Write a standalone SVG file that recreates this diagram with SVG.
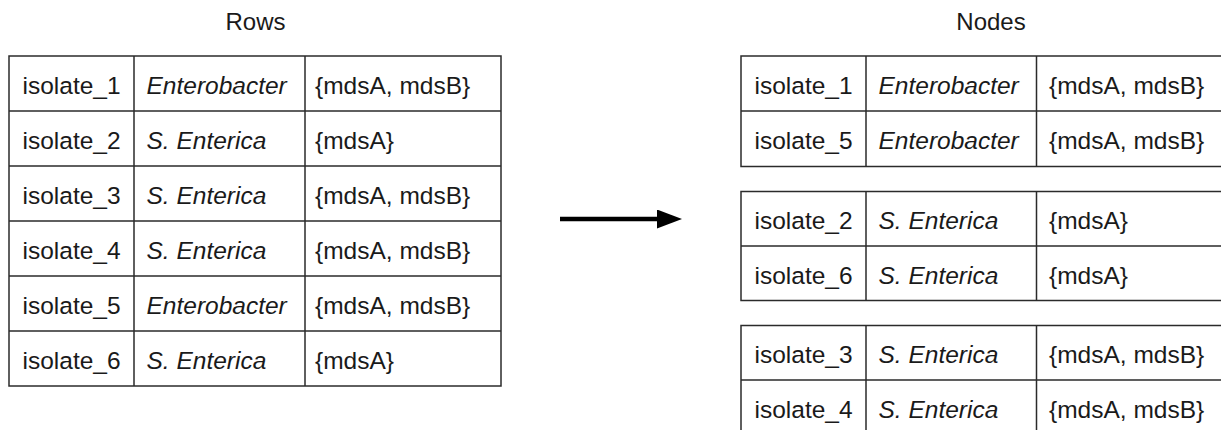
<svg xmlns="http://www.w3.org/2000/svg" width="1221" height="430" viewBox="0 0 1221 430">
  <style>
    text { font-family: "Liberation Sans", Arial, sans-serif; font-size: 24.5px; fill: #1a1a1a; }
    .title { text-anchor: middle; font-size: 24px; }
    .sp { font-style: italic; }
    .cell { fill: #ffffff; stroke: #2b2b2b; stroke-width: 1.5; }
    .grid { stroke: #2b2b2b; stroke-width: 1.5; fill: none; }
  </style>
  <defs>
    <marker id="head" viewBox="0 0 25 19" refX="0" refY="9.5" markerUnits="userSpaceOnUse" markerWidth="25" markerHeight="19" orient="auto">
      <path d="M0,0 L25,9.5 L0,19 Z" fill="#000"/>
    </marker>
  </defs>

  <rect width="1221" height="430" fill="#ffffff"/>

  <text class="title" x="255.5" y="29.5">Rows</text>
  <text class="title" x="991" y="29.5">Nodes</text>

  <!-- source table: one row per isolate -->
  <g id="rows">
    <rect class="cell" x="9" y="56" width="492" height="330"/>
    <path class="grid" d="M134,56 V386 M305,56 V386 M9,111 H501 M9,166 H501 M9,221 H501 M9,276 H501 M9,331 H501"/>
    <text x="22.5" y="93.5">isolate_1</text><text class="sp" x="146.5" y="93.5">Enterobacter</text><text x="315" y="93.5">{mdsA, mdsB}</text>
    <text x="22.5" y="148.5">isolate_2</text><text class="sp" x="146.5" y="148.5">S. Enterica</text><text x="315" y="148.5">{mdsA}</text>
    <text x="22.5" y="203.5">isolate_3</text><text class="sp" x="146.5" y="203.5">S. Enterica</text><text x="315" y="203.5">{mdsA, mdsB}</text>
    <text x="22.5" y="258.5">isolate_4</text><text class="sp" x="146.5" y="258.5">S. Enterica</text><text x="315" y="258.5">{mdsA, mdsB}</text>
    <text x="22.5" y="313.5">isolate_5</text><text class="sp" x="146.5" y="313.5">Enterobacter</text><text x="315" y="313.5">{mdsA, mdsB}</text>
    <text x="22.5" y="368.5">isolate_6</text><text class="sp" x="146.5" y="368.5">S. Enterica</text><text x="315" y="368.5">{mdsA}</text>
  </g>

  <!-- grouped tables: one per node -->
  <g id="node-enterobacter">
    <rect class="cell" x="741" y="56" width="492" height="110.5"/>
    <path class="grid" d="M866,56 V166.5 M1036.5,56 V166.5 M741,111 H1233"/>
    <text x="754.5" y="93.5">isolate_1</text><text class="sp" x="878.5" y="93.5">Enterobacter</text><text x="1049" y="93.5">{mdsA, mdsB}</text>
    <text x="754.5" y="148.5">isolate_5</text><text class="sp" x="878.5" y="148.5">Enterobacter</text><text x="1049" y="148.5">{mdsA, mdsB}</text>
  </g>

  <g id="node-enterica-a">
    <rect class="cell" x="741" y="191.5" width="492" height="109"/>
    <path class="grid" d="M866,191.5 V300.5 M1036.5,191.5 V300.5 M741,246 H1233"/>
    <text x="754.5" y="229">isolate_2</text><text class="sp" x="878.5" y="229">S. Enterica</text><text x="1049" y="229">{mdsA}</text>
    <text x="754.5" y="283.5">isolate_6</text><text class="sp" x="878.5" y="283.5">S. Enterica</text><text x="1049" y="283.5">{mdsA}</text>
  </g>

  <g id="node-enterica-ab">
    <rect class="cell" x="741" y="325.5" width="492" height="110"/>
    <path class="grid" d="M866,325.5 V435.5 M1036.5,325.5 V435.5 M741,380 H1233"/>
    <text x="754.5" y="363">isolate_3</text><text class="sp" x="878.5" y="363">S. Enterica</text><text x="1049" y="363">{mdsA, mdsB}</text>
    <text x="754.5" y="417.5">isolate_4</text><text class="sp" x="878.5" y="417.5">S. Enterica</text><text x="1049" y="417.5">{mdsA, mdsB}</text>
  </g>

  <g id="connectors">
    <line x1="560" y1="219" x2="657" y2="219" stroke="#000" stroke-width="4.5" marker-end="url(#head)"/>
  </g>
</svg>
